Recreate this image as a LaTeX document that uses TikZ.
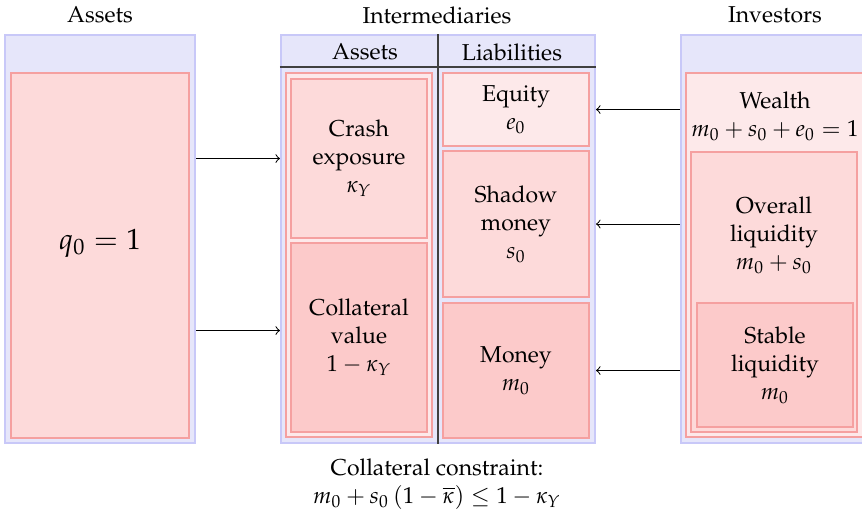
\documentclass[tikz,border=0pt]{standalone}
\usepackage[T1]{fontenc}
\usepackage{mathpazo}
\usepackage{amsmath, amssymb}
\usetikzlibrary{calc,positioning}
\definecolor{panelbg}{HTML}{E6E6FA}
\definecolor{panelline}{HTML}{C8C8F8}
\definecolor{pinklight}{HTML}{FDE9EA}
\definecolor{pinkmid}{HTML}{FDDADA}
\definecolor{pinkdark}{HTML}{FCCACA}
\definecolor{pinkline}{HTML}{F5A0A0}
\tikzset{
     panel/.style = {draw=panelline, fill=panelbg, line width=0.8pt,
                     inner sep=0pt},                 % blue column
     block/.style = {draw=pinkline, line width=0.6pt, inner sep=0pt,
                     align=center},
    light/.style  = {block, fill=pinklight},
      mid/.style  = {block, fill=pinkmid},
     dark/.style  = {block, fill=pinkdark},
       arr/.style = {->, line width=0.4pt},
        }
\begin{document}
\begin{tikzpicture}[x=0.4pt, y=-0.4pt,
    every node/.append style={font=\fontsize{9.2}{11.2}\selectfont}]
  \useasboundingbox (0,0) rectangle (862,516);

  % titles
  \node (tA) at (100,15) {Assets};
  \node (tI) at (437,15) {Intermediaries};
  \node (tV) at (775,15) {Investors};

  % assets
  \node[panel, minimum width=76pt, minimum height=163.2pt] (L) at (100,239) {};
  \node[mid, minimum width=71.2pt, minimum height=146pt] (Q) at (100,255.5) {};
  \node[font=\fontsize{11.7}{14}\selectfont] (Qt) at (100,243) {$q_0 = 1$};

  % intermediaries
  \node[panel, minimum width=125.6pt, minimum height=163.2pt] (M) at (438,239) {};
  \draw[black!75, line width=0.8pt] ($(M.north west)+(0,33)$) -- ($(M.north east)+(0,33)$);
  \draw[black!75, line width=0.8pt] (M.north) -- (M.south);
  \node (hA) at (365,52) {Assets};
  \node (hL) at (512,52) {Liabilities};
  \node[light, minimum width=58.4pt, minimum height=145.6pt] (AA) at (359,255) {};
  \node[mid, minimum width=54.4pt, minimum height=63.6pt] (crash) at (359,158.5)
       {Crash\\exposure\\$\kappa_Y$};
  \node[dark, minimum width=54.4pt, minimum height=75.6pt] (coll) at (359,337.5)
       {Collateral\\value\\$1-\kappa_Y$};
  \node[light, minimum width=58.4pt, minimum height=29.2pt] (eq) at (516,109.5)
       {Equity\\$e_0$};
  \node[mid, minimum width=58.4pt, minimum height=58.4pt] (sh) at (516,224)
       {Shadow\\money\\$s_0$};
  \node[dark, minimum width=58.4pt, minimum height=54pt] (mon) at (516,370.5)
       {Money\\$m_0$};

  % investors
  \node[panel, minimum width=75.2pt, minimum height=163.2pt] (R) at (775,239) {};
  \node[light, minimum width=71.2pt, minimum height=145.6pt] (W) at (775,255) {};
  \node[align=center] (Wt) at (775,116) {Wealth\\$m_0+s_0+e_0=1$};
  \node[mid, minimum width=66.4pt, minimum height=112pt] (OL) at (774,292) {};
  \node[align=center] (OLt) at (774,235) {Overall\\liquidity\\$m_0+s_0$};
  \node[dark, minimum width=62.4pt, minimum height=49.6pt] (SL) at (775,365)
       {Stable\\liquidity\\$m_0$};

  % flows
  \draw[arr] (L.east |- crash) -- (M.west |- crash);
  \draw[arr] ($(L.east |- coll)+(0,-7)$) -- ($(M.west |- coll)+(0,-7)$);
  \draw[arr] (R.west |- eq) -- (M.east |- eq);
  \draw[arr] (R.west |- sh) -- (M.east |- sh);
  \draw[arr] (R.west |- mon) -- (M.east |- mon);

  \node[align=center] (cc) at (437,484)
       {Collateral constraint:\\$m_0+s_0\left(1-\overline{\kappa}\right)\leq 1-\kappa_Y$};
\end{tikzpicture}
\end{document}
